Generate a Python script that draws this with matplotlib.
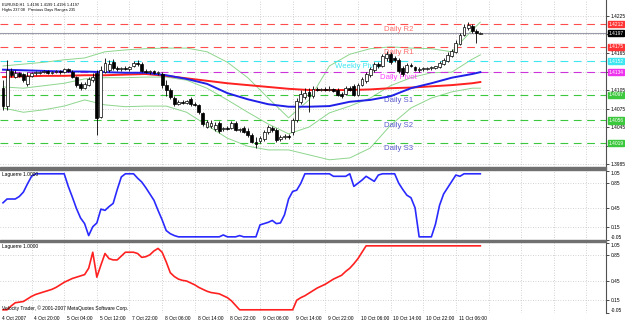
import numpy as np
import matplotlib.pyplot as plt
import matplotlib.transforms as mtransforms
from matplotlib.patches import Rectangle

plt.rcParams['font.family'] = ['Liberation Sans', 'DejaVu Sans']

# EURUSD H1 candles (bar 0 = first visible bar, 4 Oct 2007)
opens = [1.4108, 1.4079, 1.4136, 1.4126, 1.4133, 1.4131, 1.4115, 1.4128, 1.4133, 1.4133,
         1.4134, 1.4136, 1.4133, 1.4134, 1.4136, 1.4134, 1.4139, 1.4134, 1.4126, 1.4115,
         1.4108, 1.4113, 1.4121, 1.4133, 1.4061, 1.4134, 1.4138, 1.4150, 1.4141, 1.4139,
         1.4141, 1.4139, 1.4144, 1.4149, 1.4147, 1.4136, 1.4134, 1.4136, 1.4133, 1.4131,
         1.4113, 1.4105, 1.4092, 1.4082, 1.4086, 1.4084, 1.4090, 1.4082, 1.4081, 1.4068,
         1.4045, 1.4047, 1.4042, 1.4052, 1.4042, 1.4043, 1.4043, 1.4052, 1.4040, 1.4043,
         1.4039, 1.4032, 1.4021, 1.4022, 1.4026, 1.4037, 1.4043, 1.4040, 1.4026, 1.4029,
         1.4030, 1.4037, 1.4056, 1.4086, 1.4094, 1.4102, 1.4095, 1.4107, 1.4105, 1.4107,
         1.4105, 1.4107, 1.4105, 1.4099, 1.4099, 1.4108, 1.4112, 1.4097, 1.4113, 1.4120,
         1.4129, 1.4138, 1.4147, 1.4144, 1.4157, 1.4163, 1.4157, 1.4154, 1.4141, 1.4134,
         1.4146, 1.4142, 1.4138, 1.4139, 1.4139, 1.4141, 1.4141, 1.4142, 1.4147, 1.4152,
         1.4160, 1.4167, 1.4180, 1.4194, 1.4206, 1.4209, 1.4201, 1.4196]
highs = [1.4121, 1.4154, 1.4141, 1.4138, 1.4134, 1.4133, 1.4134, 1.4134, 1.4136, 1.4136,
         1.4138, 1.4138, 1.4136, 1.4138, 1.4138, 1.4141, 1.4141, 1.4138, 1.4128, 1.4118,
         1.4118, 1.4126, 1.4133, 1.4138, 1.4144, 1.4157, 1.4154, 1.4155, 1.4144, 1.4142,
         1.4144, 1.4144, 1.4152, 1.4154, 1.4150, 1.4139, 1.4138, 1.4138, 1.4136, 1.4134,
         1.4121, 1.4108, 1.4095, 1.4089, 1.4089, 1.4089, 1.4094, 1.4086, 1.4082, 1.4069,
         1.4056, 1.4056, 1.4053, 1.4055, 1.4045, 1.4047, 1.4055, 1.4055, 1.4043, 1.4047,
         1.4043, 1.4035, 1.4029, 1.4030, 1.4040, 1.4048, 1.4047, 1.4043, 1.4032, 1.4034,
         1.4034, 1.4060, 1.4092, 1.4105, 1.4108, 1.4108, 1.4112, 1.4110, 1.4108, 1.4110,
         1.4112, 1.4108, 1.4108, 1.4102, 1.4112, 1.4112, 1.4115, 1.4116, 1.4126, 1.4134,
         1.4142, 1.4150, 1.4150, 1.4163, 1.4168, 1.4167, 1.4160, 1.4157, 1.4144, 1.4149,
         1.4149, 1.4144, 1.4142, 1.4142, 1.4142, 1.4144, 1.4144, 1.4152, 1.4157, 1.4167,
         1.4172, 1.4186, 1.4197, 1.4212, 1.4215, 1.4212, 1.4204, 1.4199]
lows = [1.4073, 1.4073, 1.4126, 1.4125, 1.4126, 1.4118, 1.4112, 1.4126, 1.4129, 1.4131,
        1.4133, 1.4131, 1.4131, 1.4133, 1.4131, 1.4133, 1.4134, 1.4125, 1.4110, 1.4105,
        1.4107, 1.4112, 1.4118, 1.4032, 1.4060, 1.4133, 1.4134, 1.4138, 1.4136, 1.4136,
        1.4138, 1.4136, 1.4142, 1.4144, 1.4134, 1.4133, 1.4131, 1.4131, 1.4129, 1.4108,
        1.4095, 1.4090, 1.4079, 1.4081, 1.4082, 1.4082, 1.4079, 1.4079, 1.4066, 1.4047,
        1.4043, 1.4043, 1.4039, 1.4035, 1.4039, 1.4040, 1.4042, 1.4039, 1.4037, 1.4035,
        1.4029, 1.4019, 1.4011, 1.4019, 1.4022, 1.4034, 1.4037, 1.4021, 1.4022, 1.4026,
        1.4026, 1.4032, 1.4053, 1.4082, 1.4090, 1.4069, 1.4092, 1.4103, 1.4103, 1.4103,
        1.4103, 1.4102, 1.4095, 1.4092, 1.4097, 1.4103, 1.4095, 1.4095, 1.4112, 1.4116,
        1.4126, 1.4134, 1.4141, 1.4142, 1.4152, 1.4147, 1.4150, 1.4133, 1.4128, 1.4133,
        1.4142, 1.4136, 1.4134, 1.4136, 1.4138, 1.4138, 1.4139, 1.4141, 1.4146, 1.4150,
        1.4159, 1.4165, 1.4178, 1.4193, 1.4202, 1.4197, 1.4181, 1.4196]
closes = [1.4079, 1.4138, 1.4129, 1.4133, 1.4128, 1.4121, 1.4128, 1.4133, 1.4134, 1.4134,
          1.4136, 1.4133, 1.4134, 1.4136, 1.4134, 1.4139, 1.4136, 1.4126, 1.4113, 1.4108,
          1.4115, 1.4123, 1.4126, 1.4060, 1.4138, 1.4149, 1.4147, 1.4141, 1.4139, 1.4141,
          1.4139, 1.4142, 1.4149, 1.4147, 1.4136, 1.4134, 1.4136, 1.4133, 1.4134, 1.4113,
          1.4105, 1.4094, 1.4082, 1.4086, 1.4084, 1.4087, 1.4082, 1.4081, 1.4069, 1.4050,
          1.4053, 1.4052, 1.4048, 1.4039, 1.4043, 1.4042, 1.4052, 1.4040, 1.4042, 1.4037,
          1.4032, 1.4021, 1.4017, 1.4027, 1.4037, 1.4045, 1.4040, 1.4024, 1.4029, 1.4030,
          1.4029, 1.4056, 1.4087, 1.4099, 1.4100, 1.4095, 1.4107, 1.4105, 1.4107, 1.4105,
          1.4107, 1.4103, 1.4097, 1.4095, 1.4108, 1.4105, 1.4097, 1.4113, 1.4123, 1.4131,
          1.4139, 1.4147, 1.4144, 1.4160, 1.4163, 1.4150, 1.4154, 1.4136, 1.4131, 1.4146,
          1.4144, 1.4138, 1.4139, 1.4141, 1.4141, 1.4142, 1.4144, 1.4149, 1.4154, 1.4162,
          1.4168, 1.4181, 1.4194, 1.4207, 1.4210, 1.4201, 1.4197, 1.4197]

# overlays read every 5 bars
curve_bars = [0, 5, 10, 15, 20, 25, 30, 35, 40, 45, 50, 55, 60, 65, 70, 75, 80, 85, 90,
              95, 100, 105, 110, 115, 117]
bb_upper = [1.4144, 1.4147, 1.4150, 1.4154, 1.4157, 1.4167, 1.4170, 1.4172, 1.4173, 1.4173,
            1.4167, 1.4150, 1.4125, 1.4092, 1.4060, 1.4089, 1.4144, 1.4163, 1.4172, 1.4175,
            1.4173, 1.4172, 1.4167, 1.4202, 1.4215]
bb_middle = [1.4110, 1.4108, 1.4112, 1.4116, 1.4123, 1.4125, 1.4125, 1.4126, 1.4126, 1.4121,
             1.4108, 1.4089, 1.4069, 1.4050, 1.4034, 1.4045, 1.4068, 1.4079, 1.4092, 1.4112,
             1.4125, 1.4133, 1.4134, 1.4155, 1.4162]
bb_lower = [1.4076, 1.4069, 1.4073, 1.4079, 1.4089, 1.4081, 1.4078, 1.4079, 1.4079, 1.4069,
            1.4048, 1.4027, 1.4014, 1.4008, 1.4008, 1.4000, 1.3992, 1.3995, 1.4011, 1.4048,
            1.4076, 1.4092, 1.4102, 1.4108, 1.4108]
ma_blue = [1.4138, 1.4137, 1.4136, 1.4135, 1.4135, 1.4134, 1.4133, 1.4133, 1.4129, 1.4123,
           1.4115, 1.4100, 1.4090, 1.4082, 1.4078, 1.4078, 1.4079, 1.4086, 1.4089, 1.4095,
           1.4108, 1.4116, 1.4125, 1.4131, 1.4134]
ma_red = [1.4126, 1.4127, 1.4128, 1.4128, 1.4129, 1.4129, 1.4130, 1.4131, 1.4128, 1.4124,
          1.4120, 1.4116, 1.4113, 1.4110, 1.4107, 1.4105, 1.4105, 1.4105, 1.4106, 1.4108,
          1.4109, 1.4111, 1.4113, 1.4116, 1.4118]

# Laguerre indicators, one value per bar
laguerre_fast = [0.54, 0.60, 0.60, 0.60, 0.64, 0.71, 0.84, 0.96, 1.00, 1.00,
                 1.00, 1.00, 1.00, 1.00, 1.00, 1.00, 0.80, 0.63, 0.45, 0.30,
                 0.21, 0.02, 0.16, 0.22, 0.44, 0.42, 0.48, 0.53, 0.75, 0.95,
                 1.00, 1.00, 1.00, 0.93, 0.87, 0.78, 0.68, 0.58, 0.42, 0.27,
                 0.10, 0.05, 0.02, 0.00, 0.00, 0.00, 0.00, 0.00, 0.00, 0.00,
                 0.00, 0.00, 0.00, 0.00, 0.03, 0.00, 0.00, 0.00, 0.02, 0.00,
                 0.00, 0.00, 0.00, 0.19, 0.21, 0.23, 0.26, 0.21, 0.22, 0.35,
                 0.60, 0.72, 0.74, 0.85, 1.00, 1.00, 1.00, 1.00, 1.00, 1.00,
                 1.00, 0.96, 0.96, 0.96, 0.96, 1.00, 0.80, 0.85, 0.90, 0.96,
                 0.92, 0.88, 0.98, 1.00, 1.00, 1.00, 1.00, 0.85, 0.75, 0.66,
                 0.62, 0.46, 0.00, 0.00, 0.00, 0.00, 0.20, 0.50, 0.68, 0.78,
                 0.88, 0.98, 0.96, 1.00, 1.00, 1.00, 1.00, 1.00]
laguerre_slow = [0.00, 0.00, 0.06, 0.11, 0.12, 0.13, 0.17, 0.21, 0.24, 0.26,
                 0.28, 0.30, 0.32, 0.35, 0.39, 0.43, 0.46, 0.49, 0.51, 0.53,
                 0.55, 0.65, 0.90, 0.51, 0.70, 0.88, 0.80, 0.78, 0.78, 0.84,
                 0.90, 0.90, 0.90, 0.88, 0.82, 0.83, 0.86, 0.92, 0.96, 0.90,
                 0.75, 0.58, 0.52, 0.48, 0.46, 0.45, 0.42, 0.39, 0.35, 0.32,
                 0.29, 0.27, 0.26, 0.25, 0.22, 0.19, 0.14, 0.07, 0.00, 0.00,
                 0.00, 0.00, 0.00, 0.00, 0.00, 0.00, 0.00, 0.00, 0.00, 0.00,
                 0.00, 0.00, 0.15, 0.19, 0.22, 0.26, 0.30, 0.34, 0.37, 0.40,
                 0.44, 0.48, 0.51, 0.54, 0.60, 0.65, 0.72, 0.80, 0.90, 1.00,
                 1.00, 1.00, 1.00, 1.00, 1.00, 1.00, 1.00, 1.00, 1.00, 1.00,
                 1.00, 1.00, 1.00, 1.00, 1.00, 1.00, 1.00, 1.00, 1.00, 1.00,
                 1.00, 1.00, 1.00, 1.00, 1.00, 1.00, 1.00, 1.00]

# pivot levels
pivot_names = ['Daily R2', 'Daily R1', 'Weekly Pivot', 'Daily Pivot', 'Daily S1', 'Daily S2', 'Daily S3']
pivot_levels = [1.4212, 1.4175, 1.4152, 1.4134, 1.4097, 1.4056, 1.4019]
pivot_line_colors = ['#ff4d4d', '#ff4d4d', '#3ee6f0', '#cc33dd', '#3cc83c', '#3cc83c', '#3cc83c']
pivot_text_colors = ['#ff6f6f', '#ff6f6f', '#3ee6f0', '#ff44ff', '#5a5acd', '#5a5acd', '#5a5acd']
pivot_box_colors = ['#ff3333', '#ff3333', '#3ee6f0', '#ee33ee', '#3cc83c', '#3cc83c', '#3cc83c']
pivot_text_bars = [97, 97, 87, 97, 97, 97, 97]
last_price = 1.4197

time_labels = ['4 Oct 2007', '4 Oct 20:00', '5 Oct 04:00', '5 Oct 12:00', '7 Oct 22:00',
               '8 Oct 06:00', '8 Oct 14:00', '8 Oct 22:00', '9 Oct 06:00', '9 Oct 14:00',
               '9 Oct 22:00', '10 Oct 06:00', '10 Oct 14:00', '10 Oct 22:00', '11 Oct 06:00']
price_ticks = [1.3985, 1.4015, 1.4045, 1.4075, 1.4105, 1.4135, 1.4165, 1.4195, 1.4225]
# labels that sit under a price box are not shown
price_tick_labels = ['1.3985', '', '1.4045', '1.4075', '1.4105', '', '1.4165', '', '1.4225']
level_ticks = [-0.05, 0.15, 0.45, 0.85, 1.05]

bars = np.arange(len(closes))
o = np.array(opens)
h = np.array(highs)
l = np.array(lows)
c = np.array(closes)

grid_bars = np.arange(-1, 148, 8)
grid_kw = dict(color='#c4c4c4', lw=0.6, ls=(0, (1, 2)), zorder=0)
small = 3.5

fig = plt.figure(figsize=(6.25, 3.23), dpi=100)
fig.patch.set_facecolor('white')
ax1 = fig.add_axes([0, 0.48297, 0.9696, 0.51703])
ax2 = fig.add_axes([0, 0.25697, 0.9696, 0.21672], sharex=ax1)
ax3 = fig.add_axes([0, 0.03096, 0.9696, 0.21981], sharex=ax1)

for ax in (ax1, ax2, ax3):
    ax.set_xlim(-0.735, 147.8)
    for s in ('left', 'top', 'bottom'):
        ax.spines[s].set_visible(False)
    ax.spines['right'].set_color('#505050')
    ax.spines['right'].set_linewidth(0.8)
    ax.yaxis.tick_right()
    ax.tick_params(axis='y', labelsize=small, length=2, width=0.5, pad=1.5, colors='black')
    ax.tick_params(axis='x', bottom=False, labelbottom=False)
    for gb in grid_bars:
        ax.axvline(gb, **grid_kw)

# --- main price panel ---
ax1.set_ylim(1.39803, 1.42509)
ax1.set_yticks(price_ticks)
ax1.set_yticklabels(price_tick_labels)
for t in price_ticks:
    ax1.axhline(t, **grid_kw)

ax1.plot(curve_bars, bb_upper, color='#8ed68e', lw=0.7, zorder=1)
ax1.plot(curve_bars, bb_middle, color='#8ed68e', lw=0.7, zorder=1)
ax1.plot(curve_bars, bb_lower, color='#8ed68e', lw=0.7, zorder=1)

for name, lev, lc, tc, tb in zip(pivot_names, pivot_levels, pivot_line_colors,
                                 pivot_text_colors, pivot_text_bars):
    ax1.axhline(lev, color=lc, lw=0.8, ls=(0, (7, 5)), zorder=1)
    ax1.annotate(name, (tb, lev), xytext=(0, -1.5), textcoords='offset points',
                 ha='center', va='top', fontsize=5.6, color=tc, zorder=2)
ax1.axhline(last_price, color='#9a9aaa', lw=0.8, zorder=1)

ax1.plot(curve_bars, ma_red, color='#ff2020', lw=1.4, zorder=2)
ax1.plot(curve_bars, ma_blue, color='#2020e8', lw=1.4, zorder=2)

up = c >= o
ax1.vlines(bars, l, h, color='black', lw=0.6, zorder=3)
ax1.bar(bars[up], (c - o)[up], bottom=o[up], width=0.7, color='white',
        edgecolor='black', lw=0.5, zorder=4)
ax1.bar(bars[~up], (o - c)[~up], bottom=c[~up], width=0.7, color='black',
        edgecolor='black', lw=0.5, zorder=4)

box_tr = mtransforms.blended_transform_factory(ax1.transAxes, ax1.transData)
for lev, bc in zip(pivot_levels, pivot_box_colors):
    ax1.text(1.004, lev, '%.4f' % lev, transform=box_tr, ha='left', va='center',
             fontsize=small, color='white', clip_on=False, zorder=10,
             bbox=dict(boxstyle='square,pad=0.15', fc=bc, ec=bc))
ax1.text(1.004, last_price, '%.4f' % last_price, transform=box_tr, ha='left', va='center',
         fontsize=small, color='white', clip_on=False, zorder=10,
         bbox=dict(boxstyle='square,pad=0.15', fc='black', ec='black'))

ax1.text(0.003, 0.985, 'EURUSD,H1  %.4f %.4f %.4f %.4f' % (opens[-1], highs[-1], lows[-1], closes[-1]),
         transform=ax1.transAxes, fontsize=2.8, va='top', ha='left')
ax1.text(0.003, 0.95, 'Highs 237.08   Previous Days Ranges 235',
         transform=ax1.transAxes, fontsize=2.8, va='top', ha='left')

# --- Laguerre panels ---
for ax, vals, col in ((ax2, laguerre_fast, '#2a2aff'), (ax3, laguerre_slow, '#ff2020')):
    ax.set_ylim(-0.05, 1.06)
    ax.set_yticks(level_ticks)
    ax.set_yticklabels(['%.2f' % t for t in level_ticks])
    labs = ax.get_yticklabels()
    labs[0].set_va('bottom')
    labs[-1].set_va('top')
    for t in level_ticks[1:4]:
        ax.axhline(t, **grid_kw)
    ax.plot(bars, vals, color=col, lw=1.2, zorder=3)
    ax.text(0.004, 0.97, 'Laguerre 1.0000', transform=ax.transAxes, fontsize=small,
            va='top', ha='left')

ax3.text(0.004, 0.03, 'Velocity Trader, \u00a9 2001-2007 MetaQuotes Software Corp.',
         transform=ax3.transAxes, fontsize=small, va='bottom', ha='left')

lab_tr = mtransforms.blended_transform_factory(ax3.transData, ax3.transAxes)
for k, lab in enumerate(time_labels):
    ax3.text(-1 + 8 * k + 0.7, -0.045, lab, transform=lab_tr, fontsize=small,
             ha='left', va='top', clip_on=False)

# panel separators
for y0, hgt in ((153 / 323, 3 / 323), (81 / 323, 2 / 323)):
    fig.patches.append(Rectangle((0, y0), 0.9696, hgt, transform=fig.transFigure,
                                 color='#707070', zorder=5))

fig.savefig('out.png', dpi=100)
